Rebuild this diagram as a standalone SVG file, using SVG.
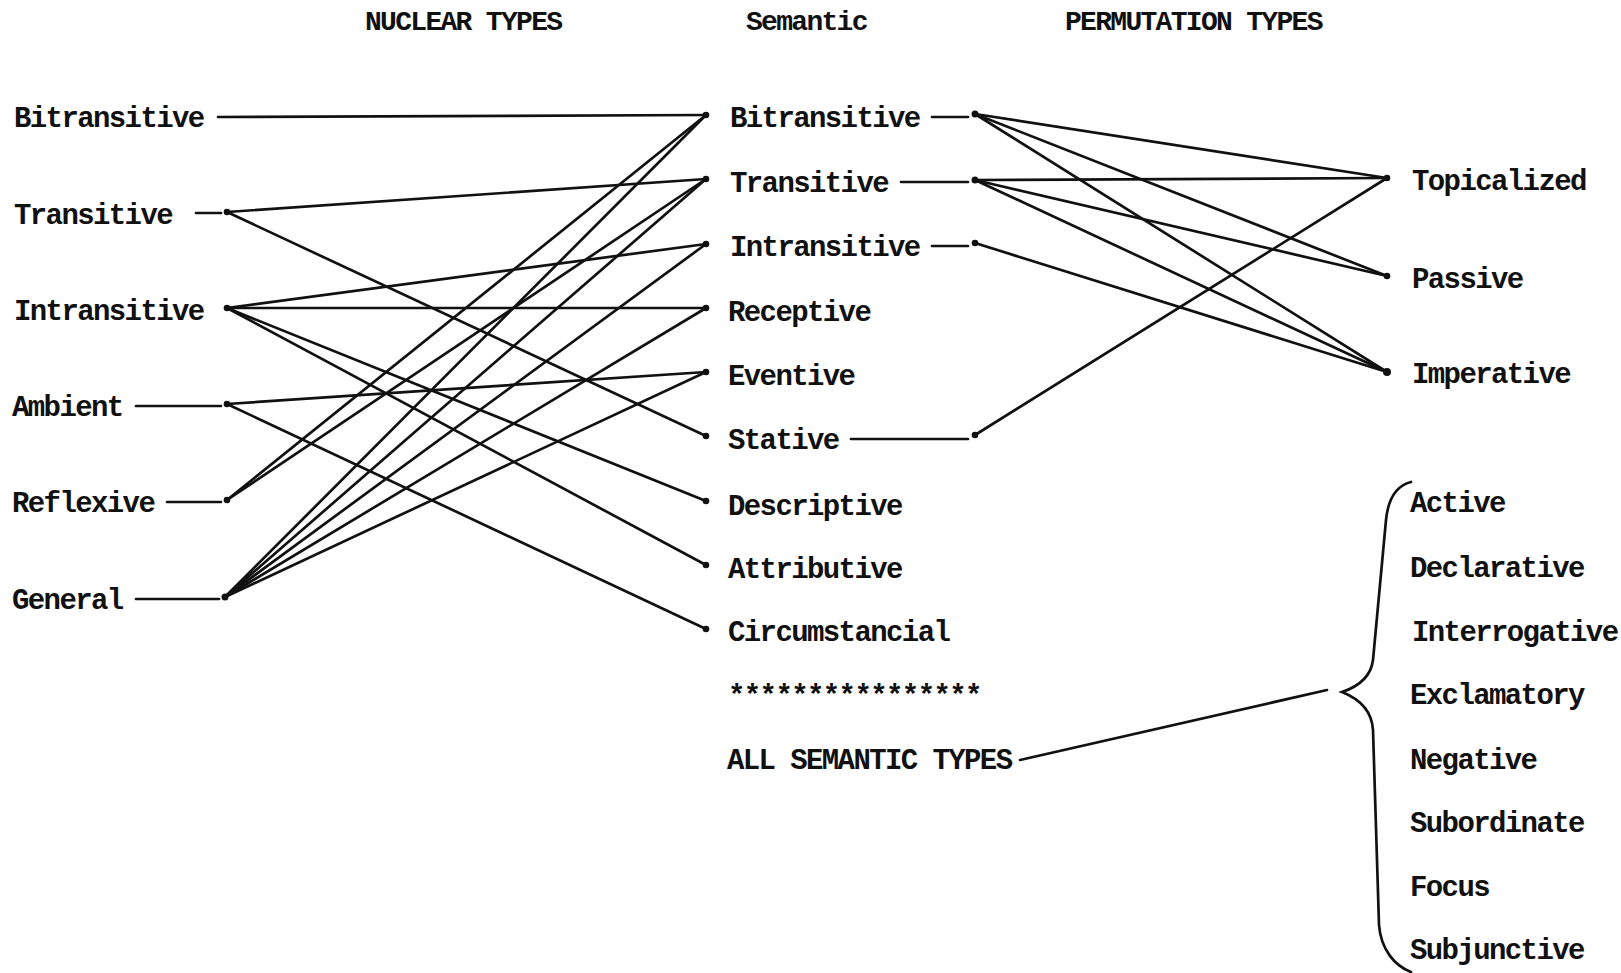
<svg xmlns="http://www.w3.org/2000/svg" width="1621" height="973" viewBox="0 0 1621 973">
<style>
text{font-family:"Liberation Mono","Courier New",monospace;font-size:29px;font-weight:bold;letter-spacing:-1.6px;fill:#111}
.hd{font-size:28px;letter-spacing:-1.7px}
line,path{stroke:#111;stroke-width:2.7;fill:none;stroke-linecap:round}
circle{fill:#111}
</style>
<g id="headers">
<text class="hd" x="365" y="30">NUCLEAR TYPES</text>
<text class="hd" x="746" y="30">Semantic</text>
<text class="hd" x="1065" y="30">PERMUTATION TYPES</text>
</g>
<g id="nuclear">
<g id="n-bitransitive"><text x="14" y="127">Bitransitive</text></g>
<g id="n-transitive"><text x="14" y="224">Transitive</text><line x1="196" y1="213" x2="221" y2="213"/><circle cx="227" cy="212" r="3.3"/></g>
<g id="n-intransitive"><text x="14" y="320">Intransitive</text><circle cx="227" cy="308" r="3.3"/></g>
<g id="n-ambient"><text x="12" y="416">Ambient</text><line x1="136" y1="406" x2="221" y2="406"/><circle cx="227" cy="404" r="3.3"/></g>
<g id="n-reflexive"><text x="12" y="512">Reflexive</text><line x1="167" y1="502" x2="221" y2="502"/><circle cx="227" cy="500" r="3.3"/></g>
<g id="n-general"><text x="12" y="609">General</text><line x1="136" y1="599" x2="219" y2="599"/><circle cx="225" cy="597" r="3.5"/></g>
</g>
<g id="semantic">
<g id="s-bitransitive"><circle cx="706" cy="115" r="3.3"/><text x="730" y="127">Bitransitive</text><line x1="932" y1="117" x2="968" y2="117"/><circle cx="975" cy="114" r="3.5"/></g>
<g id="s-transitive"><circle cx="706" cy="179" r="3.3"/><text x="730" y="192">Transitive</text><line x1="901" y1="182" x2="968" y2="182"/><circle cx="975" cy="180" r="3.5"/></g>
<g id="s-intransitive"><circle cx="706" cy="244" r="3.3"/><text x="730" y="256">Intransitive</text><line x1="932" y1="246" x2="968" y2="246"/><circle cx="975" cy="243" r="3.3"/></g>
<g id="s-receptive"><circle cx="706" cy="308" r="3.3"/><text x="728" y="321">Receptive</text></g>
<g id="s-eventive"><circle cx="706" cy="372" r="3.3"/><text x="728" y="385">Eventive</text></g>
<g id="s-stative"><circle cx="706" cy="436" r="3.3"/><text x="728" y="449">Stative</text><line x1="851" y1="439" x2="968" y2="439"/><circle cx="975" cy="435" r="3.3"/></g>
<g id="s-descriptive"><circle cx="706" cy="501" r="3.3"/><text x="728" y="515">Descriptive</text></g>
<g id="s-attributive"><circle cx="706" cy="565" r="3.3"/><text x="728" y="578">Attributive</text></g>
<g id="s-circumstancial"><circle cx="706" cy="629" r="3.3"/><text x="728" y="641">Circumstancial</text></g>
<g id="s-stars"><text x="728" y="705">****************</text></g>
<g id="s-all"><text x="727" y="769">ALL SEMANTIC TYPES</text></g>
</g>
<g id="permutation">
<g id="p-topicalized"><circle cx="1387" cy="178" r="3.3"/><text x="1412" y="190">Topicalized</text></g>
<g id="p-passive"><circle cx="1387" cy="276" r="3.3"/><text x="1412" y="288">Passive</text></g>
<g id="p-imperative"><circle cx="1387" cy="372" r="4"/><text x="1412" y="383">Imperative</text></g>
<g id="p-brace-items">
<text x="1410" y="512">Active</text>
<text x="1410" y="577">Declarative</text>
<text x="1412" y="641">Interrogative</text>
<text x="1410" y="704">Exclamatory</text>
<text x="1410" y="769">Negative</text>
<text x="1410" y="832">Subordinate</text>
<text x="1410" y="896">Focus</text>
<text x="1410" y="959">Subjunctive</text>
</g>
</g>
<g id="connectors">
<line x1="218" y1="117" x2="706" y2="115"/>
<line x1="227" y1="212" x2="706" y2="179"/>
<line x1="227" y1="212" x2="706" y2="436"/>
<line x1="227" y1="308" x2="706" y2="244"/>
<line x1="227" y1="308" x2="706" y2="308"/>
<line x1="227" y1="308" x2="706" y2="501"/>
<line x1="227" y1="308" x2="706" y2="565"/>
<line x1="227" y1="404" x2="706" y2="372"/>
<line x1="227" y1="404" x2="706" y2="629"/>
<line x1="227" y1="500" x2="706" y2="115"/>
<line x1="227" y1="500" x2="706" y2="179"/>
<line x1="225" y1="597" x2="706" y2="115"/>
<line x1="225" y1="597" x2="706" y2="179"/>
<line x1="225" y1="597" x2="706" y2="244"/>
<line x1="225" y1="597" x2="706" y2="308"/>
<line x1="225" y1="597" x2="706" y2="372"/>
<line x1="975" y1="114" x2="1387" y2="178"/>
<line x1="975" y1="114" x2="1387" y2="276"/>
<line x1="975" y1="114" x2="1387" y2="372"/>
<line x1="975" y1="180" x2="1387" y2="178"/>
<line x1="975" y1="180" x2="1387" y2="276"/>
<line x1="975" y1="180" x2="1387" y2="372"/>
<line x1="975" y1="243" x2="1387" y2="372"/>
<line x1="975" y1="435" x2="1387" y2="178"/>
<line x1="1020" y1="760" x2="1327" y2="690"/>
<path d="M1411,482 C1395,486 1388,500 1386,520 L1373,660 C1371,676 1360,686 1342,692 C1362,700 1372,712 1373,730 L1379,925 C1381,950 1395,966 1411,972"/>
</g>
</svg>
